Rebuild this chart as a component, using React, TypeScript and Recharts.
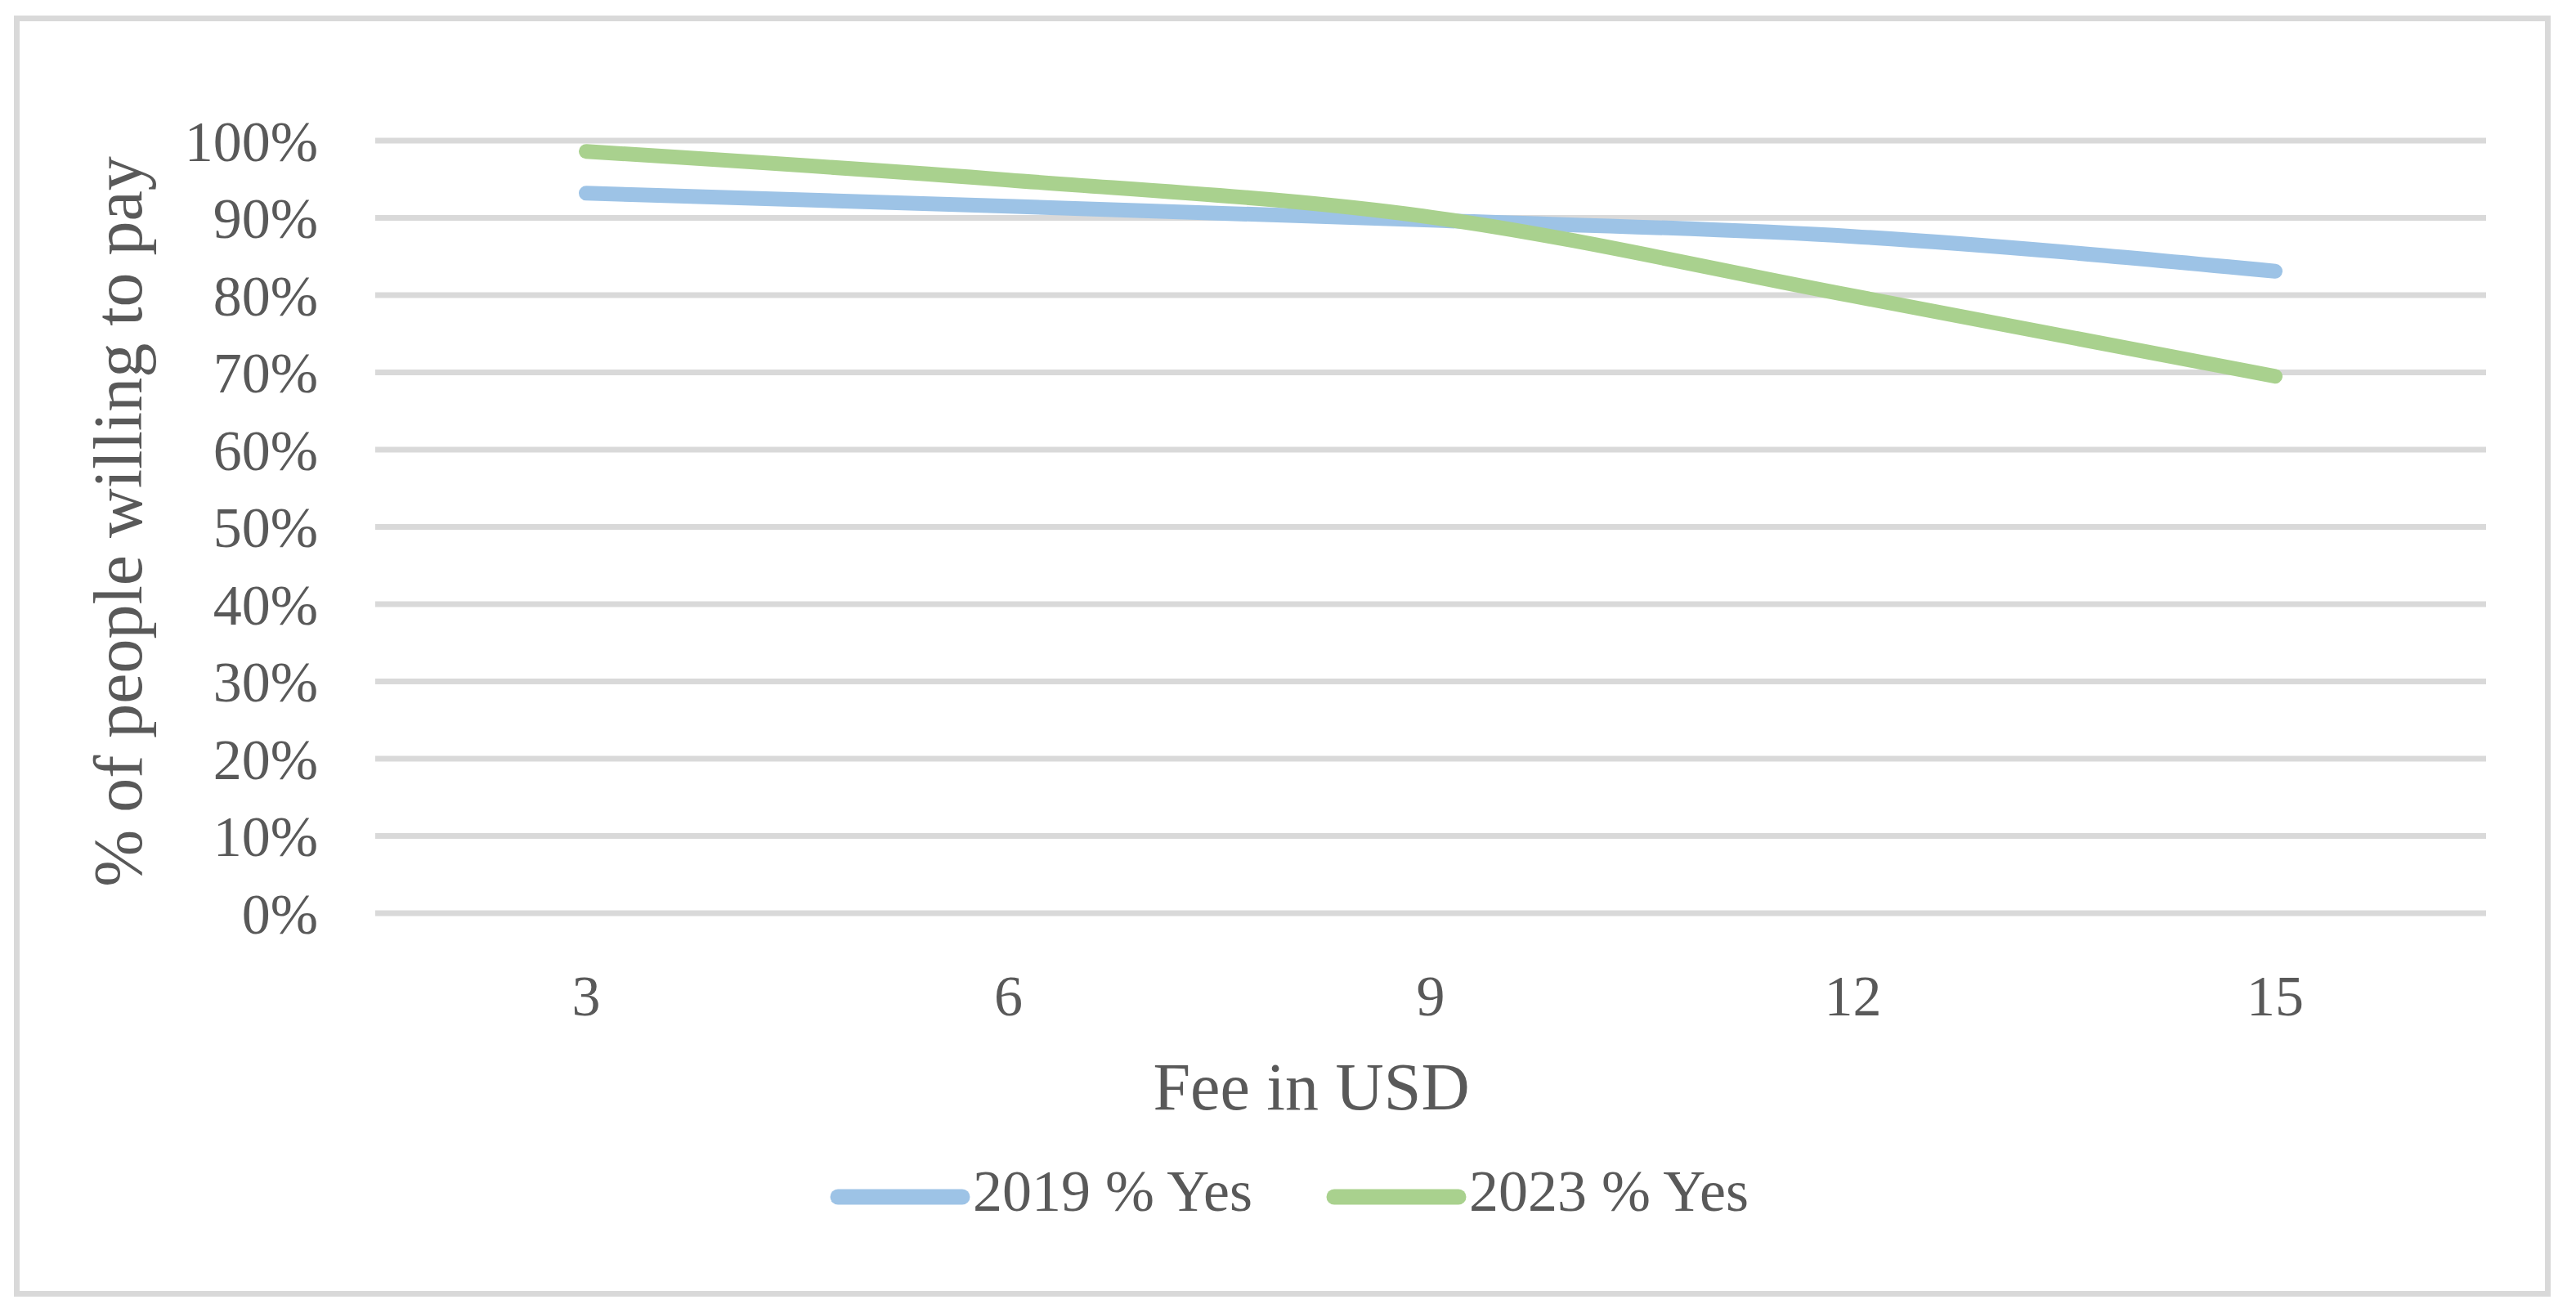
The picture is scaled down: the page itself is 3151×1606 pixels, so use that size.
import React from 'react';
import { LineChart, Line, XAxis, YAxis, CartesianGrid, Legend } from 'recharts';

const fees = ['3', '6', '9', '12', '15'];
const yes2019 = [93.2, 91.5, 89.7, 87.6, 83.1];
const yes2023 = [98.6, 94.9, 90.1, 79.9, 69.5];
const yTicks = [0, 10, 20, 30, 40, 50, 60, 70, 80, 90, 100];
const seriesNames = ['2019 % Yes', '2023 % Yes'];
const seriesColors = ['#9DC3E6', '#A9D18E'];

const data = fees.map((f, i) => ({ fee: f, y2019: yes2019[i], y2023: yes2023[i] }));

const FONT = '"Liberation Serif", "Times New Roman", serif';
const TEXT = '#595959';

const W = 3151;
const H = 1606;

const LegendContent = (props: any) => {
  const payload = props.payload || [];
  const xs = [1016, 1623];
  return (
    <svg width={W} height={200} style={{ position: 'absolute', left: 0, top: 1386 }}>
      {payload.map((p: any, i: number) => (
        <g key={i}>
          <line x1={xs[i] + 9} x2={xs[i] + 161} y1={78} y2={78} stroke={p.color} strokeWidth={19} strokeLinecap="round" />
          <text x={xs[i] + 174} y={95} fontFamily={FONT} fontSize={72} fill={TEXT}>{p.value}</text>
        </g>
      ))}
    </svg>
  );
};

export default function App() {
  return (
    <div style={{ position: 'absolute', left: 0, top: 0, width: W, height: H, background: '#fff' }}>
      <div style={{ position: 'absolute', left: 17, top: 19, width: 3120 - 17, height: 1586 - 19, border: '7px solid #D9D9D9', boxSizing: 'border-box' }} />
      <div style={{ position: 'absolute', left: 0, top: 0 }}>
        <LineChart width={W} height={H} data={data} margin={{ top: 172, right: 110, bottom: 0, left: 0 }}>
          <CartesianGrid vertical={false} stroke="#D9D9D9" strokeWidth={7} />
          <XAxis
            dataKey="fee"
            height={489}
            axisLine={false}
            tickLine={false}
            tickSize={0}
            tickMargin={75}
            padding={{ left: 258, right: 258 }}
            tick={{ fontFamily: FONT, fontSize: 70, fill: TEXT }}
            label={{
              content: () => (
                <text x={1604} y={1357} textAnchor="middle" fontFamily={FONT} fontSize={82} fill={TEXT}>Fee in USD</text>
              ),
            }}
          />
          <YAxis
            width={459}
            domain={[0, 100]}
            ticks={yTicks}
            axisLine={false}
            tickLine={false}
            tickSize={0}
            tickMargin={70}
            interval={0}
            tickFormatter={(v: number) => `${v}%`}
            tick={{ fontFamily: FONT, fontSize: 70, fill: TEXT }}
            label={{
              content: () => (
                <text x={173} y={638} transform="rotate(-90 173 638)" textAnchor="middle" fontFamily={FONT} fontSize={84} fill={TEXT}>% of people willing to pay</text>
              ),
            }}
          />
          <Legend
            verticalAlign="middle"
            align="center"
            layout="horizontal"
            wrapperStyle={{ position: 'absolute', left: 0, top: 0, width: W, height: 0 }}
            content={<LegendContent />}
          />
          <Line type="monotone" dataKey="y2019" name={seriesNames[0]} stroke={seriesColors[0]} strokeWidth={18} strokeLinecap="round" dot={false} activeDot={false} isAnimationActive={false} />
          <Line type="monotone" dataKey="y2023" name={seriesNames[1]} stroke={seriesColors[1]} strokeWidth={18} strokeLinecap="round" dot={false} activeDot={false} isAnimationActive={false} />
        </LineChart>
      </div>
    </div>
  );
}
